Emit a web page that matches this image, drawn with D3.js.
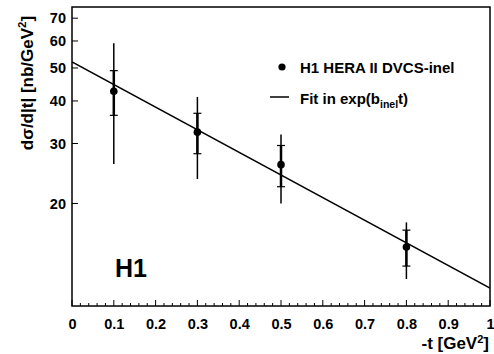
<!DOCTYPE html>
<html><head><meta charset="utf-8">
<script src="https://cdn.jsdelivr.net/npm/d3@7"></script>
<style>body{margin:0;background:#fff}text{font-family:"Liberation Sans",Arial,sans-serif;font-weight:bold}</style>
</head><body><svg id="c" width="494" height="354"></svg>
<script>
const tVals = [0.1, 0.3, 0.5, 0.8];
const xsec = [42.7, 32.4, 26.0, 14.9];
const statLo = [36.3, 28.0, 22.4, 13.1];
const statHi = [49.1, 36.8, 29.6, 16.7];
const totLo = [26.1, 23.6, 20.0, 12.0];
const totHi = [59.1, 41.1, 31.9, 17.6];
const fitA = 52.1, fitB = 1.53;
const xTicks = [0,0.1,0.2,0.3,0.4,0.5,0.6,0.7,0.8,0.9,1];
const yTicks = [20,30,40,50,60,70];

const svg = d3.select("#c");
const L=72, R=490, T=7, B=306;
const x = d3.scaleLinear().domain([0,1]).range([L,R]);
const y = d3.scaleLog().domain([10,75.5]).range([B,T]);

// axes
const xa = svg.append("g").attr("transform",`translate(0,${B})`)
  .call(d3.axisBottom(x).tickValues(xTicks).tickSize(0).tickPadding(13)
    .tickFormat(d=>d===0||d===1?String(d):d3.format(".1f")(d)));
xa.select(".domain").remove();
xa.selectAll("text").attr("font-size",14.5).attr("font-family","Liberation Sans").attr("font-weight","bold").attr("fill","#000");
const ya = svg.append("g").attr("transform",`translate(${L},0)`)
  .call(d3.axisLeft(y).tickValues(yTicks).tickSize(0).tickPadding(6).tickFormat(d3.format("d")));
ya.select(".domain").remove();
ya.selectAll("text").attr("font-size",14.5).attr("font-family","Liberation Sans").attr("font-weight","bold").attr("fill","#000");

// minor x ticks
const minor = d3.range(0,51).map(i=>i/50);
svg.append("g").selectAll("line").data(minor).join("line")
  .attr("x1",d=>x(d)).attr("x2",d=>x(d)).attr("y1",B)
  .attr("y2",(d,i)=>B-(i%5===0?6:3)).attr("stroke","#000").attr("stroke-width",1);
// y ticks
svg.append("g").selectAll("line").data(yTicks).join("line")
  .attr("x1",L).attr("x2",L+6).attr("y1",d=>y(d)).attr("y2",d=>y(d)).attr("stroke","#000").attr("stroke-width",1);

// frame
svg.append("rect").attr("x",L).attr("y",T).attr("width",R-L).attr("height",B-T)
  .attr("fill","none").attr("stroke","#000").attr("stroke-width",1.5);

// fit line
svg.append("clipPath").attr("id","cp").append("rect").attr("x",L).attr("y",T).attr("width",R-L).attr("height",B-T);
const fitT = [0,1];
svg.append("path").attr("clip-path","url(#cp)")
  .attr("d",d3.line().x(d=>x(d)).y(d=>y(fitA*Math.exp(-fitB*d)))(fitT))
  .attr("fill","none").attr("stroke","#000").attr("stroke-width",1.5);

// error bars
const pts = tVals.map((t,i)=>({t,v:xsec[i],sl:statLo[i],sh:statHi[i],tl:totLo[i],th:totHi[i]}));
const g = svg.append("g");
g.selectAll(".tot").data(pts).join("line").attr("x1",d=>x(d.t)).attr("x2",d=>x(d.t))
  .attr("y1",d=>y(d.tl)).attr("y2",d=>y(d.th)).attr("stroke","#000").attr("stroke-width",1.5);
g.selectAll(".stat").data(pts).join("line").attr("x1",d=>x(d.t)).attr("x2",d=>x(d.t))
  .attr("y1",d=>y(d.sl)).attr("y2",d=>y(d.sh)).attr("stroke","#000").attr("stroke-width",2.5);
["sl","sh"].forEach(k=>{
  g.selectAll(".cap"+k).data(pts).join("line").attr("x1",d=>x(d.t)-4).attr("x2",d=>x(d.t)+4)
    .attr("y1",d=>y(d[k])).attr("y2",d=>y(d[k])).attr("stroke","#000").attr("stroke-width",1.2);
});
g.selectAll("circle").data(pts).join("circle").attr("cx",d=>x(d.t)).attr("cy",d=>y(d.v)).attr("r",3.8).attr("fill","#000");

// legend
svg.append("circle").attr("cx",282).attr("cy",67).attr("r",3.6).attr("fill","#000");
svg.append("text").attr("x",300).attr("y",72.5).attr("font-size",15).text("H1 HERA II DVCS-inel");
svg.append("line").attr("x1",270).attr("x2",289).attr("y1",97).attr("y2",97).attr("stroke","#000").attr("stroke-width",1.5);
const ft = svg.append("text").attr("x",300).attr("y",104).attr("font-size",15);
ft.append("tspan").text("Fit in exp(b");
ft.append("tspan").attr("font-size",10.5).attr("dy",4).text("inel");
ft.append("tspan").attr("dy",-4).text("t)");

// H1 label
svg.append("text").attr("x",115).attr("y",277).attr("font-size",25).text("H1");

// axis titles
const xt = svg.append("text").attr("x",489).attr("y",349).attr("text-anchor","end").attr("font-size",17);
xt.append("tspan").text("-t [GeV");
xt.append("tspan").attr("font-size",11).attr("dy",-6).text("2");
xt.append("tspan").attr("dy",6).text("]");
const yt = svg.append("text").attr("transform","translate(33,83) rotate(-90)").attr("text-anchor","middle").attr("font-size",17);
yt.append("tspan").text("dσ/d|t| [nb/GeV");
yt.append("tspan").attr("font-size",11.5).attr("dy",-7).text("2");
yt.append("tspan").attr("dy",7).text("]");
</script></body></html>
